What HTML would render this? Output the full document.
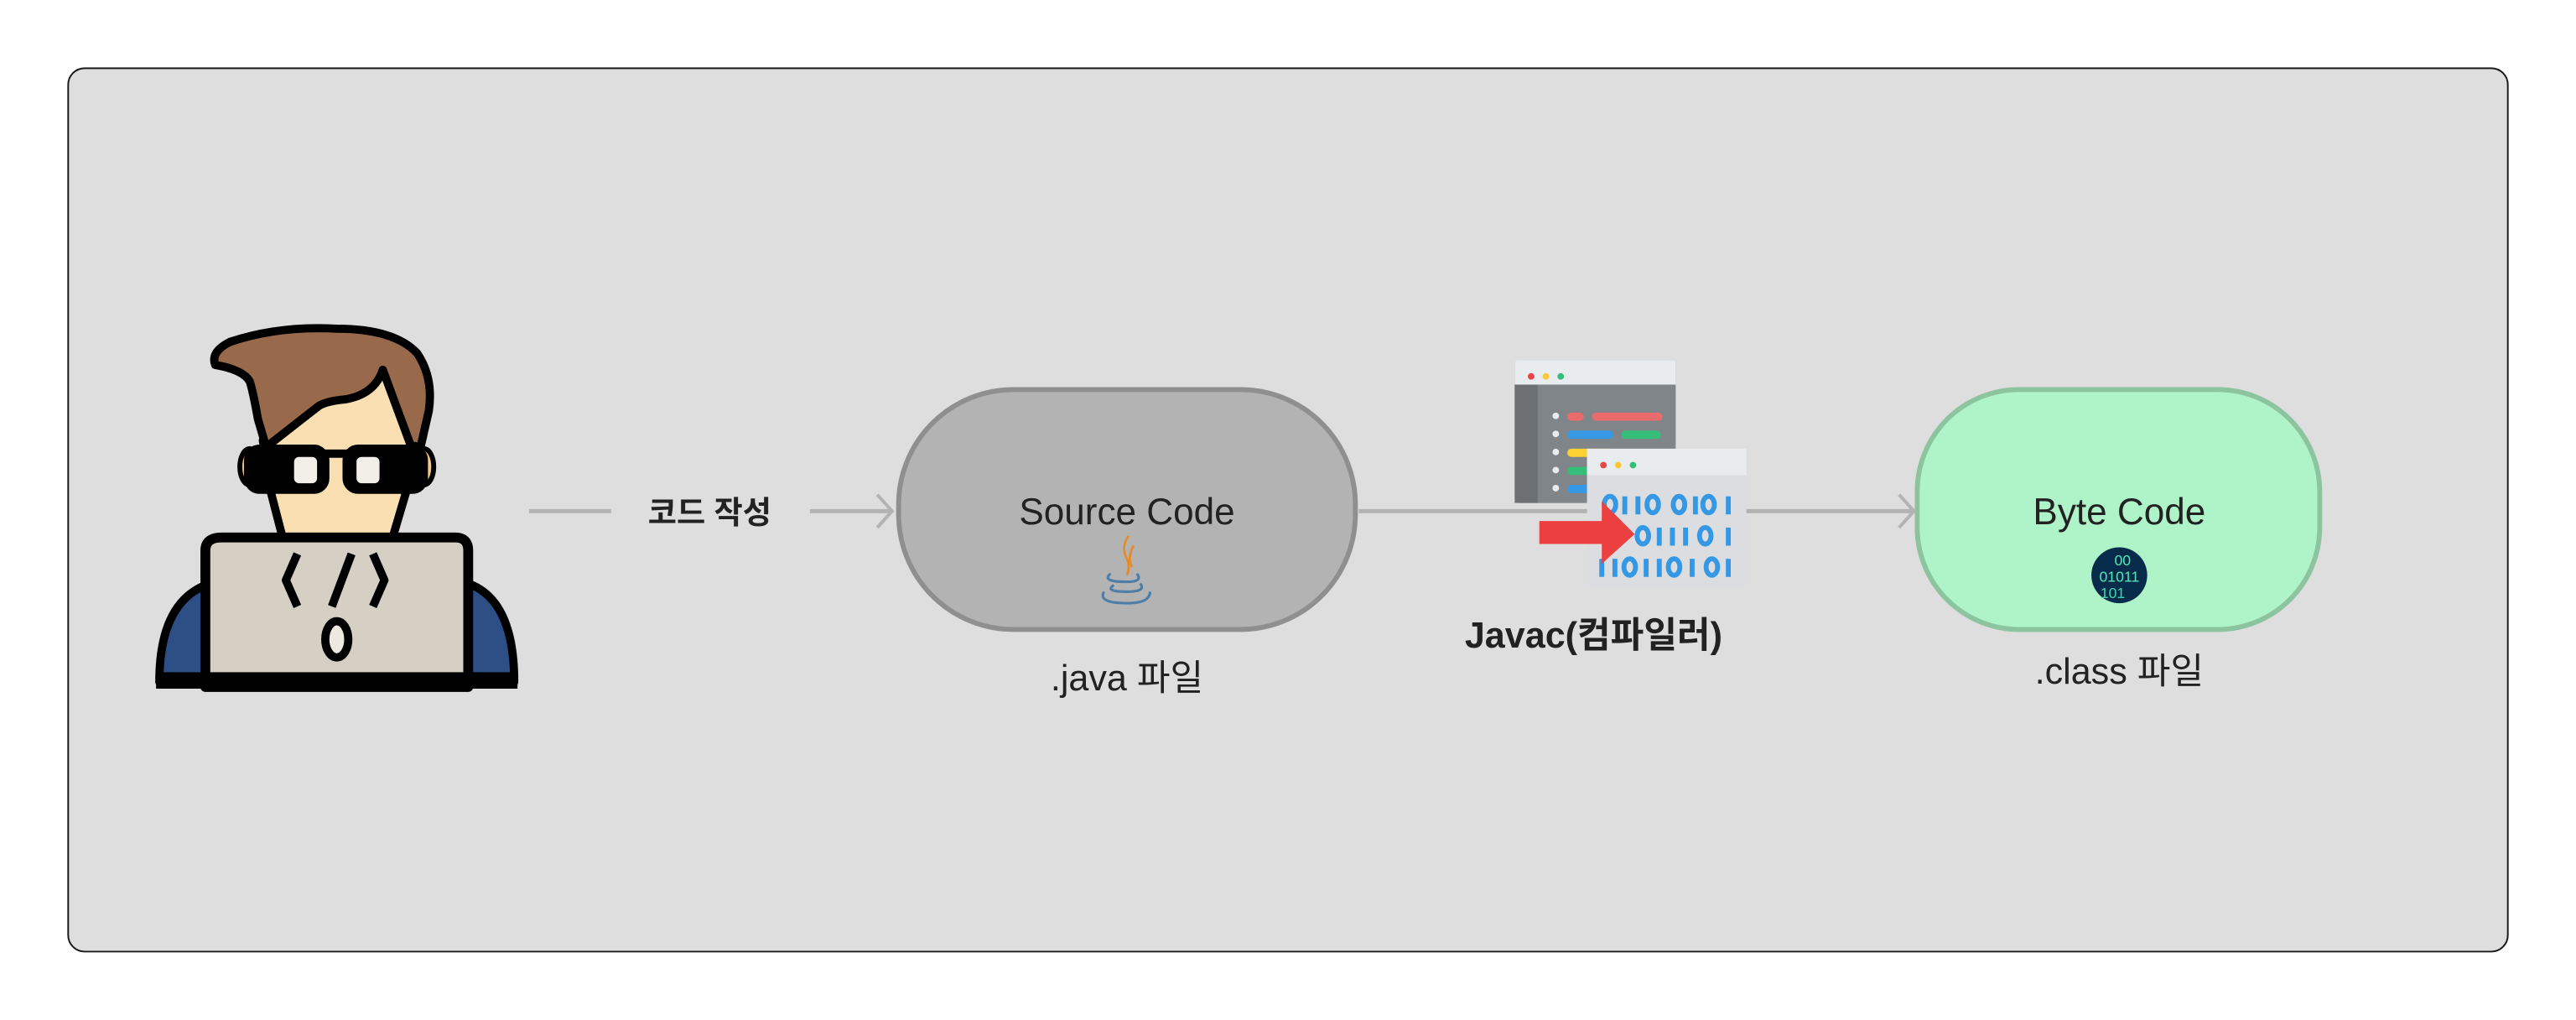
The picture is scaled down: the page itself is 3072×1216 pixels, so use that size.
<!DOCTYPE html>
<html><head><meta charset="utf-8"><style>
html,body{margin:0;padding:0;background:#fff;width:3072px;height:1216px;overflow:hidden}
svg{display:block}
text{font-family:"Liberation Sans","Noto Sans CJK KR",sans-serif}
</style></head><body>
<svg width="3072" height="1216" viewBox="0 0 1568 620.6" xmlns="http://www.w3.org/2000/svg">
<rect x="41.5" y="41.5" width="1485" height="537.5" rx="10" fill="#dedede" stroke="#1a1a1a" stroke-width="1"/>

<!-- person -->
<g stroke="#000" stroke-linejoin="round">
  <path d="M97 415 Q97 365 128 355 L285 355 Q313 365 313 415 Z" fill="#2d4f86" stroke-width="5"/>
  <ellipse cx="152" cy="284" rx="6" ry="11" fill="#f6c98a" stroke-width="3"/>
  <ellipse cx="258" cy="284" rx="6" ry="11" fill="#f6c98a" stroke-width="3"/>
  <path d="M160 268 L194 245 L233 225 L252 271 L247 300 L239 327 L172 327 L165 300 Z" fill="#f9dfb2" stroke-width="5"/>
  <path d="M131 222 Q128 214 140 208 Q170 198 205 200 Q240 200 254 215 Q264 230 261 250 L256 272 L250 271 L233 225 Q228 240 210 243 Q199 244 194 247 L162 272 L157 255 Q154 238 152 232 Q148 225 131 222 Z" fill="#98694a" stroke-width="5"/>
  <rect x="149" y="271" width="51" height="29" rx="9" fill="#000" stroke-width="1"/>
  <rect x="209" y="271" width="51" height="29" rx="9" fill="#000" stroke-width="1"/>
  <rect x="179" y="278" width="14" height="16" rx="3" fill="#f1efe7" stroke="none"/>
  <rect x="217" y="278" width="14" height="16" rx="3" fill="#f1efe7" stroke="none"/>
  <path d="M195 276 L214 276" stroke-width="5" fill="none"/>
  <path d="M125 418 L125 335 Q125 327 135 327 L277 327 Q285 327 285 335 L285 418 Z" fill="#d5cfc4" stroke-width="6"/>
  <path d="M95 414 L315 414" stroke-width="10"/>
  <path d="M181 337 L174 353 L181 369 M227 337 L234 353 L227 369 M214 337 L202 369" fill="none" stroke-width="5"/>
  <ellipse cx="205" cy="389" rx="7" ry="11" fill="#ece9e0" stroke-width="5"/>
</g>

<!-- connector 1 -->
<path d="M322 311 L372 311 M493 311 L543 311" stroke="#b3b3b3" stroke-width="2.5" fill="none"/>
<path d="M534 301 L543 311 L534 321" stroke="#b3b3b3" stroke-width="2" fill="none"/>
<text x="432" y="318.5" font-size="19" font-weight="bold" text-anchor="middle" fill="#222">코드 작성</text>

<!-- source code -->
<rect x="547" y="237" width="278" height="146" rx="70" fill="#b3b3b3" stroke="#8f8f8f" stroke-width="3"/>
<text x="686" y="319" font-size="22.5" text-anchor="middle" fill="#222">Source Code</text>
<path d="M687 326 Q682 333 686 340 Q688 345 686 350 M690 332 Q686 339 689 345" stroke="#e38c2d" stroke-width="1.4" fill="none"/>
<path d="M676 349 Q670 354 686 354 Q696 354 692 349 M678 356 Q672 360 686 360 Q698 360 694 355 M672 360 Q668 367 686 367 Q700 367 700 360" stroke="#4e7ea6" stroke-width="1.6" fill="none"/>
<text x="686" y="420" font-size="22" text-anchor="middle" fill="#222">.java 파일</text>

<!-- connector 2 -->
<path d="M827 311 L1165 311" stroke="#b3b3b3" stroke-width="2.5" fill="none"/>
<path d="M1156 301 L1165 311 L1156 321" stroke="#b3b3b3" stroke-width="2" fill="none"/>

<!-- compiler icon -->
<g>
  <rect x="922" y="219" width="98" height="87" rx="3" fill="#7f8588"/>
  <rect x="922" y="234" width="14" height="72" fill="#6c7073"/>
  <path d="M922 234 L922 222 Q922 219 925 219 L1017 219 Q1020 219 1020 222 L1020 234 Z" fill="#e8ecef"/>
  <circle cx="932" cy="229" r="2" fill="#e94343"/><circle cx="941" cy="229" r="2" fill="#f8c93b"/><circle cx="950" cy="229" r="2" fill="#35be79"/>
  <g fill="#e8ecef"><circle cx="947" cy="253" r="2"/><circle cx="947" cy="264" r="2"/><circle cx="947" cy="275" r="2"/><circle cx="947" cy="286" r="2"/><circle cx="947" cy="297" r="2"/></g>
  <rect x="954" y="251" width="10" height="5" rx="2.5" fill="#e96b6b"/><rect x="969" y="251" width="43" height="5" rx="2.5" fill="#e96b6b"/>
  <rect x="954" y="262" width="28" height="5" rx="2.5" fill="#3598e4"/><rect x="987" y="262" width="24" height="5" rx="2.5" fill="#35be79"/>
  <rect x="954" y="273" width="28" height="5" rx="2.5" fill="#fcd232"/>
  <rect x="954" y="284" width="20" height="5" rx="2.5" fill="#35be79"/>
  <rect x="954" y="295" width="20" height="5" rx="2.5" fill="#3598e4"/>
  <rect x="966" y="273" width="97" height="84" fill="#dcdde0"/>
  <rect x="966" y="273" width="97" height="16" fill="#e8ecef"/>
  <circle cx="976" cy="283" r="2" fill="#e94343"/><circle cx="985" cy="283" r="2" fill="#f8c93b"/><circle cx="994" cy="283" r="2" fill="#35be79"/>
  <g fill="none" stroke="#3598e4" stroke-width="3">
    <ellipse cx="980" cy="307" rx="3.5" ry="5"/><path d="M989 302v11M997 302v11"/><ellipse cx="1006" cy="307" rx="3.5" ry="5"/><ellipse cx="1022" cy="307" rx="3.5" ry="5"/><path d="M1032 302v11"/>
    <ellipse cx="1000" cy="326" rx="3.5" ry="5"/><path d="M1010 321v11M1018 321v11M1026 321v11"/><ellipse cx="1038" cy="326" rx="3.5" ry="5"/>
    <path d="M975 340v11M983 340v11"/><ellipse cx="992" cy="345" rx="3.5" ry="5"/><path d="M1002 340v11M1010 340v11"/><ellipse cx="1019" cy="345" rx="3.5" ry="5"/><path d="M1030 340v11"/>
    <ellipse cx="1040" cy="307" rx="3.5" ry="5"/><path d="M1052 302v11M1052 321v11M1052 340v11"/><ellipse cx="1042" cy="345" rx="3.5" ry="5"/>
  </g>
  <path d="M937 317 L975 317 L975 305 L995 325 L975 343 L975 331 L937 331 Z" fill="#ec4040"/>
</g>
<text x="970" y="394" font-size="22" font-weight="bold" text-anchor="middle" fill="#222">Javac(컴파일러)</text>

<!-- byte code -->
<rect x="1167" y="237" width="245" height="146" rx="62" fill="#aff4c8" stroke="#8cc4a0" stroke-width="3"/>
<text x="1290" y="319" font-size="22.5" text-anchor="middle" fill="#222">Byte Code</text>
<circle cx="1290" cy="350" r="17" fill="#062b4b"/>
<text x="1292" y="344" font-size="9" text-anchor="middle" fill="#4de8b4">00</text>
<text x="1290" y="354" font-size="9" text-anchor="middle" fill="#4de8b4">01011</text>
<text x="1286" y="364" font-size="9" text-anchor="middle" fill="#3fd4a8">101</text>
<text x="1290" y="416" font-size="22" text-anchor="middle" fill="#222">.class 파일</text>
</svg>
</body></html>
